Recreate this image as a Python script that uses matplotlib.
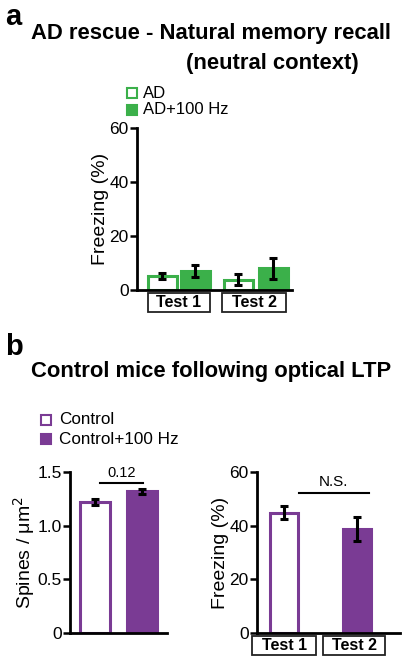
import numpy as np
import matplotlib.pyplot as plt
from matplotlib.patches import Rectangle
from matplotlib.transforms import blended_transform_factory
from matplotlib import rcParams

rcParams['font.family'] = ['Liberation Sans', 'DejaVu Sans']
rcParams['font.size'] = 12

green = '#3bb04a'
purple = '#7a3b94'

# panel a: AD rescue
a_groups = ['Test 1', 'Test 2']
a_labels = ['AD', 'AD+100 Hz']
a_mean = [5.2, 7.2, 3.8, 8.0]
a_err = [1.2, 2.2, 2.0, 4.0]

# panel b: spines
b_labels = ['Control', 'Control+100 Hz']
spine_mean = [1.22, 1.32]
spine_err = [0.03, 0.025]
spine_p = '0.12'

# panel b: freezing
frz_groups = ['Test 1', 'Test 2']
frz_mean = [44.8, 38.6]
frz_err = [2.5, 4.5]

W, H = 405, 660
fig = plt.figure(figsize=(W/100, H/100), dpi=100)

def px_axes(l, r, t, b):
    return fig.add_axes([l/W, 1-b/H, (r-l)/W, (b-t)/H])

def style(ax):
    for s in ['top', 'right']:
        ax.spines[s].set_visible(False)
    for s in ['left', 'bottom']:
        ax.spines[s].set_linewidth(2)
    ax.tick_params(axis='y', direction='out', length=5, width=1.8, labelsize=12.5, pad=1)
    ax.tick_params(axis='x', length=0, labelbottom=False)

def boxlabel(ax, xc, w, text):
    tr = blended_transform_factory(ax.transData, ax.transAxes)
    ax.add_patch(Rectangle((xc - w/2, -0.135), w, 0.117, transform=tr, clip_on=False,
                           facecolor='white', edgecolor='#222222', lw=1.3))
    ax.text(xc, -0.077, text, transform=tr, ha='center', va='center',
            fontsize=11.5, fontweight='bold')

def bars(ax, x, vals, errs, colors, fills, width):
    for xi, v, e, c, f in zip(x, vals, errs, colors, fills):
        ax.bar(xi, v, width, facecolor=c if f else 'white', edgecolor=c, linewidth=2.2)
        ax.errorbar(xi, v, yerr=e, fmt='none', ecolor='black', elinewidth=2.2,
                    capsize=3, capthick=2.2)

# ---- panel a ----
fig.text(0.012, 0.995, 'a', fontsize=21, fontweight='bold', va='top')
fig.text(211/W, 1-34/H, 'AD rescue - Natural memory recall', fontsize=15.8,
         fontweight='bold', ha='center', va='center')
fig.text(272/W, 1-63/H, '(neutral context)', fontsize=15.8,
         fontweight='bold', ha='center', va='center')

ax1 = px_axes(137, 292, 128, 290)
xa = [0, 1, 2.29, 3.36]
bars(ax1, xa, a_mean, a_err, [green]*4, [False, True, False, True], 0.88)
ax1.set_xlim(-0.77, 3.92)
ax1.set_ylim(0, 60)
ax1.set_yticks([0, 20, 40, 60])
ax1.set_ylabel('Freezing (%)', fontsize=14, labelpad=0)
style(ax1)
boxlabel(ax1, 0.5, 1.88, a_groups[0])
boxlabel(ax1, 2.78, 1.94, a_groups[1])

# legend a
for i, (lab, f) in enumerate(zip(a_labels, [False, True])):
    y = 93 + i*17
    fig.patches.append(Rectangle((127/W, 1-(y+5)/H), 10/W, 10/H, transform=fig.transFigure,
                                 facecolor=green if f else 'white', edgecolor=green, lw=1.5))
    fig.text(143/W, 1-y/H, lab, fontsize=12, va='center')

# ---- panel b ----
fig.text(0.012, 1-333/H, 'b', fontsize=21, fontweight='bold', va='top')
fig.text(211/W, 1-372/H, 'Control mice following optical LTP', fontsize=15.8,
         fontweight='bold', ha='center', va='center')

for i, (lab, f) in enumerate(zip(b_labels, [False, True])):
    y = 420 + i*19
    fig.patches.append(Rectangle((41/W, 1-(y+5)/H), 10/W, 10/H, transform=fig.transFigure,
                                 facecolor=purple if f else 'white', edgecolor=purple, lw=1.5))
    fig.text(59/W, 1-y/H, lab, fontsize=12.3, va='center')

ax2 = px_axes(70, 167, 472, 633)
bars(ax2, [0, 1.55], spine_mean, spine_err, [purple]*2, [False, True], 1.0)
ax2.set_xlim(-0.85, 2.4)
ax2.set_ylim(0, 1.5)
ax2.set_yticks([0, 0.5, 1.0, 1.5])
ax2.set_yticklabels(['0', '0.5', '1.0', '1.5'])
ax2.set_ylabel('Spines / μm$^2$', fontsize=14, labelpad=0)
style(ax2)
ax2.plot([0.15, 1.6], [1.40, 1.40], color='black', lw=1.5, clip_on=False)
ax2.text(0.875, 1.43, spine_p, ha='center', va='bottom', fontsize=10.5)

ax3 = px_axes(257, 400, 472, 633)
bars(ax3, [0, 2.45], frz_mean, frz_err, [purple]*2, [False, True], 0.95)
ax3.set_xlim(-0.92, 3.9)
ax3.set_ylim(0, 60)
ax3.set_yticks([0, 20, 40, 60])
ax3.set_ylabel('Freezing (%)', fontsize=14, labelpad=0)
style(ax3)
ax3.plot([0.5, 2.85], [52, 52], color='black', lw=1.5, clip_on=False)
ax3.text(1.67, 53.5, 'N.S.', ha='center', va='bottom', fontsize=11)
boxlabel(ax3, 0.0, 2.15, frz_groups[0])
boxlabel(ax3, 2.35, 2.1, frz_groups[1])

fig.savefig('out.png', dpi=100)
